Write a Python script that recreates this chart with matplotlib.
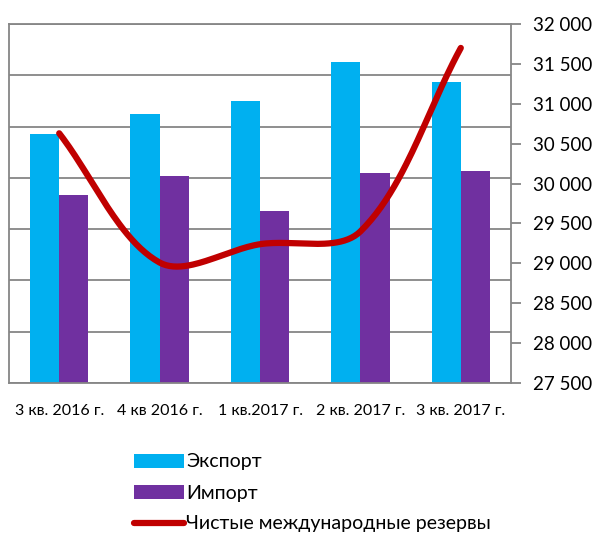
import numpy as np
import matplotlib.pyplot as plt
from matplotlib.ticker import FuncFormatter, MultipleLocator

quarters = ['3 кв. 2016 г.', '4 кв 2016 г.', '1 кв.2017 г.', '2 кв. 2017 г.', '3 кв. 2017 г.']
export = [9700, 10490, 11000, 12500, 11740]
imports = [7350, 8070, 6710, 8190, 8280]
reserves = [30630, 29010, 29240, 29400, 31700]

plt.rcParams['font.family'] = ['Lato', 'DejaVu Sans']

fig = plt.figure(figsize=(5.92, 5.34), dpi=100)
ax = fig.add_axes([9 / 592, 1 - 383 / 534, 502 / 592, 359 / 534])
x = np.arange(len(quarters))
w = 0.29
gray = '#868686'

b1 = ax.bar(x - w / 2, export, w, color='#00B0F0', label='Экспорт', zorder=2)
b2 = ax.bar(x + w / 2, imports, w, color='#7030A0', label='Импорт', zorder=2)
ax.set_xlim(-0.5, 4.5)
ax.set_ylim(0, 14000)
ax.yaxis.set_major_locator(MultipleLocator(2000))
ax.grid(axis='y', color=gray, linewidth=1.3, zorder=0)
ax.set_xticks(x)
ax.set_xticklabels(quarters)
for s in ax.spines.values():
    s.set_color(gray)
    s.set_linewidth(1.3)

ax2 = ax.twinx()
ax.tick_params(axis='y', left=False, right=False, labelleft=False)
ax.tick_params(axis='x', length=0, labelsize=11.5, pad=15)

# smoothed line, Excel-like bezier with chord-length weighted tangents (pixel space)
ax2.set_ylim(27500, 32000)
sx, sy = 100.4, 359 / 4500
px = np.array(x, dtype=float)
py = np.array(reserves, dtype=float)
n = len(px)
d = np.hypot(np.diff(px) * sx, np.diff(py) * sy)
xs, ys = [], []
t = np.linspace(0, 1, 50)[:, None]
for i in range(n - 1):
    p0 = np.array([px[i], py[i]])
    p3 = np.array([px[i + 1], py[i + 1]])
    if i == 0:
        c1 = p0 + (p3 - p0) / 3
    else:
        prev = np.array([px[i - 1], py[i - 1]])
        c1 = p0 + (p3 - prev) * d[i] / (d[i - 1] + d[i]) / 3
    if i == n - 2:
        c2 = p3 - (p3 - p0) / 3
    else:
        nxt = np.array([px[i + 2], py[i + 2]])
        c2 = p3 - (nxt - p0) * d[i] / (d[i] + d[i + 1]) / 3
    seg = (1 - t)**3 * p0 + 3 * (1 - t)**2 * t * c1 + 3 * (1 - t) * t**2 * c2 + t**3 * p3
    xs.extend(seg[:, 0])
    ys.extend(seg[:, 1])
ln, = ax2.plot(xs, ys, color='#C00000', linewidth=4.5, solid_capstyle='round',
               label='Чистые международные резервы')
ax2.yaxis.set_major_locator(MultipleLocator(500))
ax2.yaxis.set_major_formatter(FuncFormatter(lambda v, p: f'{int(v):,}'.replace(',', ' ')))
ax2.tick_params(axis='y', length=7, width=1.3, color=gray, labelsize=13.5, pad=9)
for s in ax2.spines.values():
    s.set_visible(False)

fig.legend(handles=[b1, b2, ln], loc='upper left', bbox_to_anchor=(116 / 592, 1 - 436 / 534),
           frameon=False, fontsize=14, handlelength=2.6, handletextpad=0.12,
           labelspacing=0.72)

fig.savefig('out.png', dpi=100)
